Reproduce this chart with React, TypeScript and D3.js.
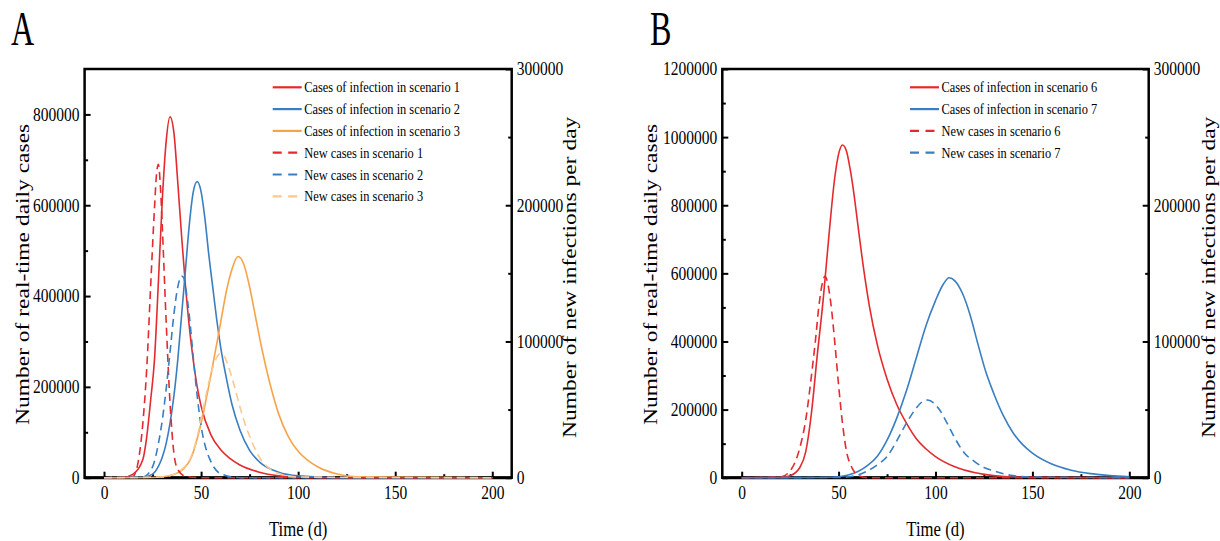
import React, { useEffect, useRef } from 'react';
import { select, scaleLinear, axisBottom, axisLeft, axisRight, line, curveMonotoneX } from 'd3';

// ---- panel A : scenarios 1-3 ----
const daysA1 = [0, 10, 15, 20, 22, 24, 26, 28, 30, 32, 34, 36, 38, 40, 42, 44, 46, 48, 50, 55, 60, 65, 70, 80, 90, 100, 120, 150, 200];
const casesA1 = [0, 1000, 8000, 40000, 90000, 170000, 260000, 430000, 610000, 740000, 795000, 760000, 650000, 530000, 420000, 330000, 258000, 200000, 158000, 95000, 62000, 42000, 28000, 12000, 4000, 1000, 0, 0, 0];

const daysA2 = [0, 20, 25, 28, 30, 32, 34, 36, 38, 40, 42, 44, 46, 48, 50, 52, 54, 56, 58, 60, 63, 66, 70, 75, 80, 90, 100, 120, 200];
const casesA2 = [0, 1000, 8000, 25000, 45000, 75000, 120000, 180000, 260000, 360000, 460000, 560000, 630000, 652000, 630000, 570000, 490000, 420000, 350000, 290000, 220000, 160000, 105000, 60000, 35000, 12000, 4000, 0, 0];

const daysA3 = [0, 25, 30, 35, 40, 45, 50, 55, 60, 63, 66, 69, 72, 75, 78, 81, 85, 90, 95, 100, 105, 110, 120, 130, 200];
const casesA3 = [0, 500, 2000, 6000, 16000, 45000, 120000, 225000, 340000, 410000, 460000, 487000, 470000, 420000, 355000, 290000, 215000, 140000, 90000, 58000, 38000, 24000, 8000, 2000, 0];

const newDaysA1 = [0, 10, 15, 18, 20, 22, 24, 26, 27, 28, 29, 30, 32, 34, 36, 38, 42, 50, 100, 200];
const newA1 = [0, 0, 1000, 15000, 40000, 80000, 140000, 198000, 222000, 230000, 215000, 185000, 115000, 55000, 18000, 6000, 1000, 0, 0, 0];

const newDaysA2 = [0, 20, 25, 28, 30, 32, 34, 36, 38, 40, 41, 42, 44, 46, 48, 50, 52, 55, 60, 70, 200];
const newA2 = [0, 500, 8000, 25000, 42000, 65000, 92000, 120000, 140000, 148000, 147000, 140000, 118000, 88000, 60000, 38000, 24000, 12000, 3000, 0, 0];

const newDaysA3 = [0, 30, 35, 40, 45, 48, 51, 54, 57, 60, 62, 64, 67, 70, 73, 76, 80, 85, 90, 100, 200];
const newA3 = [0, 500, 2000, 6000, 16000, 30000, 50000, 70000, 85000, 91000, 89000, 82000, 68000, 52000, 38000, 27000, 15000, 7000, 3000, 500, 0];

// ---- panel B : scenarios 6-7 ----
const daysB6 = [0, 20, 25, 30, 33, 36, 39, 42, 45, 48, 50, 52, 54, 56, 58, 60, 63, 66, 70, 75, 80, 85, 90, 95, 100, 110, 120, 130, 140, 200];
const casesB6 = [0, 1000, 6000, 30000, 75000, 190000, 360000, 520000, 710000, 880000, 950000, 977000, 960000, 905000, 830000, 740000, 610000, 500000, 390000, 290000, 215000, 160000, 115000, 85000, 62000, 32000, 15000, 6000, 2000, 0];

const daysB7 = [0, 40, 50, 55, 60, 65, 70, 75, 80, 85, 90, 95, 100, 104, 107, 110, 114, 118, 122, 126, 130, 135, 140, 145, 150, 160, 170, 180, 190, 200];
const casesB7 = [0, 500, 3000, 8000, 18000, 36000, 63000, 110000, 175000, 255000, 350000, 445000, 520000, 568000, 587000, 578000, 540000, 475000, 390000, 310000, 248000, 182000, 132000, 97000, 72000, 40000, 22000, 12000, 6000, 3000];

const newDaysB6 = [0, 20, 25, 30, 33, 36, 38, 40, 42, 43, 44, 46, 48, 50, 52, 54, 57, 60, 65, 200];
const newB6 = [0, 500, 5000, 22000, 42000, 75000, 100000, 128000, 145000, 148000, 145000, 128000, 100000, 68000, 40000, 20000, 7000, 2000, 0, 0];

const newDaysB7 = [0, 50, 60, 65, 70, 75, 80, 85, 90, 93, 96, 99, 102, 106, 110, 115, 120, 125, 130, 140, 150, 200];
const newB7 = [0, 200, 2000, 5000, 9500, 15500, 27000, 40000, 51000, 55500, 57000, 55000, 50000, 40000, 29000, 18000, 12000, 7500, 5000, 1500, 500, 0];

const xTicks = [0, 50, 100, 150, 200];
const xMinor = [25, 75, 125, 175];
const rightTicks = [0, 100000, 200000, 300000];
const rightMinor = [50000, 150000, 250000];

const RED = '#e42a2e';
const BLUE = '#3a7ec2';
const ORANGE = '#f7a349';
const LIGHT_ORANGE = '#fcc890';
const FONT = '"Liberation Serif", "Times New Roman", Times, serif';

const panels = [
    {
        letter: 'A', letterX: 11,
        left: 84.6, right: 511.7, top: 69, bottom: 477.7,
        leftMax: 900000,
        leftTicks: [0, 200000, 400000, 600000, 800000],
        leftMinor: [100000, 300000, 500000, 700000],
        leftTitleX: 28.5, rightTitleX: 575.5,
        legendX: 272.7,
        series: [
            { days: daysA1, values: casesA1, color: RED, dashed: false, axis: 'left', label: 'Cases of infection in scenario 1' },
            { days: daysA2, values: casesA2, color: BLUE, dashed: false, axis: 'left', label: 'Cases of infection in scenario 2' },
            { days: daysA3, values: casesA3, color: ORANGE, dashed: false, axis: 'left', label: 'Cases of infection in scenario 3' },
            { days: newDaysA1, values: newA1, color: RED, dashed: true, axis: 'right', label: 'New cases in scenario 1' },
            { days: newDaysA2, values: newA2, color: BLUE, dashed: true, axis: 'right', label: 'New cases in scenario 2' },
            { days: newDaysA3, values: newA3, color: LIGHT_ORANGE, dashed: true, axis: 'right', label: 'New cases in scenario 3' },
        ],
    },
    {
        letter: 'B', letterX: 650,
        left: 722.3, right: 1148.7, top: 69, bottom: 477.7,
        leftMax: 1200000,
        leftTicks: [0, 200000, 400000, 600000, 800000, 1000000, 1200000],
        leftMinor: [100000, 300000, 500000, 700000, 900000, 1100000],
        leftTitleX: 657, rightTitleX: 1215,
        legendX: 910,
        series: [
            { days: daysB6, values: casesB6, color: RED, dashed: false, axis: 'left', label: 'Cases of infection in scenario 6' },
            { days: daysB7, values: casesB7, color: BLUE, dashed: false, axis: 'left', label: 'Cases of infection in scenario 7' },
            { days: newDaysB6, values: newB6, color: RED, dashed: true, axis: 'right', label: 'New cases in scenario 6' },
            { days: newDaysB7, values: newB7, color: BLUE, dashed: true, axis: 'right', label: 'New cases in scenario 7' },
        ],
    },
];

// squeeze every tick label horizontally around its own anchor
function styleAxis(g, fontSize, sx) {
    g.select('.domain').remove();
    g.selectAll('line').attr('stroke', '#000').attr('stroke-width', 2);
    g.selectAll('text')
        .attr('fill', '#000')
        .style('font-family', FONT)
        .style('font-size', fontSize + 'px')
        .each(function () {
            const t = select(this);
            const tx = +(t.attr('x') || 0);
            const ty = +(t.attr('y') || 0);
            t.attr('x', 0).attr('y', 0).attr('transform', `translate(${tx},${ty}) scale(${sx},1)`);
        });
}

function drawPanel(svg, p) {
    const g = svg.append('g');
    const x = scaleLinear().domain([-10, 210]).range([p.left, p.right]);
    const yL = scaleLinear().domain([0, p.leftMax]).range([p.bottom, p.top]);
    const yR = scaleLinear().domain([0, 300000]).range([p.bottom, p.top]);

    // minor ticks
    g.append('g').attr('transform', `translate(0,${p.bottom})`)
        .call(axisBottom(x).tickValues(xMinor).tickSizeInner(-3.5).tickSizeOuter(0).tickFormat(() => ''))
        .call(a => styleAxis(a, 18.5, 0.84));
    g.append('g').attr('transform', `translate(${p.left},0)`)
        .call(axisLeft(yL).tickValues(p.leftMinor).tickSizeInner(-3.5).tickSizeOuter(0).tickFormat(() => ''))
        .call(a => styleAxis(a, 18.5, 0.84));
    g.append('g').attr('transform', `translate(${p.right},0)`)
        .call(axisRight(yR).tickValues(rightMinor).tickSizeInner(-3.5).tickSizeOuter(0).tickFormat(() => ''))
        .call(a => styleAxis(a, 18.5, 0.84));

    // major ticks + labels
    g.append('g').attr('transform', `translate(0,${p.bottom})`)
        .call(axisBottom(x).tickValues(xTicks).tickSizeInner(-6).tickSizeOuter(0).tickPadding(8).tickFormat(d => String(d)))
        .call(a => styleAxis(a, 18.5, 0.84));
    g.append('g').attr('transform', `translate(${p.left},0)`)
        .call(axisLeft(yL).tickValues(p.leftTicks).tickSizeInner(-6).tickSizeOuter(0).tickPadding(5).tickFormat(d => String(d)))
        .call(a => styleAxis(a, 18.5, 0.84));
    g.append('g').attr('transform', `translate(${p.right},0)`)
        .call(axisRight(yR).tickValues(rightTicks).tickSizeInner(-6).tickSizeOuter(0).tickPadding(5).tickFormat(d => String(d)))
        .call(a => styleAxis(a, 18.5, 0.84));

    // frame
    g.append('rect')
        .attr('x', p.left).attr('y', p.top)
        .attr('width', p.right - p.left).attr('height', p.bottom - p.top)
        .attr('fill', 'none').attr('stroke', '#000').attr('stroke-width', 2.5);
    g.append('line')
        .attr('x1', p.left).attr('x2', p.right).attr('y1', p.bottom).attr('y2', p.bottom)
        .attr('stroke', '#000').attr('stroke-width', 3);

    // curves
    p.series.forEach(s => {
        const y = s.axis === 'left' ? yL : yR;
        const pts = s.days.map((d, i) => [d, s.values[i]]);
        g.append('path')
            .datum(pts)
            .attr('fill', 'none')
            .attr('stroke', s.color)
            .attr('stroke-width', 1.6)
            .attr('stroke-dasharray', s.dashed ? '8,5' : null)
            .attr('d', line().x(d => x(d[0])).y(d => y(d[1])).curve(curveMonotoneX));
    });

    // legend
    p.series.forEach((s, i) => {
        const ly = 87.3 + i * 21.8;
        g.append('line')
            .attr('x1', p.legendX).attr('x2', p.legendX + 29)
            .attr('y1', ly).attr('y2', ly)
            .attr('stroke', s.color).attr('stroke-width', 2.2)
            .attr('stroke-dasharray', s.dashed ? '9,6.5' : null);
        g.append('text')
            .attr('transform', `translate(${p.legendX + 31.5},${ly}) scale(0.825,1)`)
            .attr('dy', '0.34em')
            .style('font-family', FONT).style('font-size', '15px')
            .text(s.label);
    });

    // axis titles
    const midY = (p.top + p.bottom) / 2 + 1;
    g.append('text')
        .attr('transform', `translate(${(p.left + p.right) / 2},536) scale(0.76,1)`)
        .attr('text-anchor', 'middle')
        .style('font-family', FONT).style('font-size', '22px')
        .text('Time (d)');
    g.append('text')
        .attr('transform', `translate(${p.leftTitleX},${midY}) rotate(-90) scale(1,0.82)`)
        .attr('text-anchor', 'middle')
        .style('font-family', FONT).style('font-size', '23.5px')
        .text('Number of real-time daily cases');
    g.append('text')
        .attr('transform', `translate(${p.rightTitleX},${midY + 3}) rotate(-90) scale(1,0.82)`)
        .attr('text-anchor', 'middle')
        .style('font-family', FONT).style('font-size', '23.5px')
        .text('Number of new infections per day');

    // panel letter
    g.append('text')
        .attr('transform', `translate(${p.letterX},45) scale(0.67,1)`)
        .style('font-family', FONT).style('font-size', '48px')
        .text(p.letter);
}

export default function App() {
    const ref = useRef(null);

    useEffect(() => {
        const svg = select(ref.current);
        svg.selectAll('*').remove();
        panels.forEach(p => drawPanel(svg, p));
    }, []);

    return (
        <svg
            ref={ref}
            width={1220}
            height={541}
            style={{ position: 'absolute', left: 0, top: 0, background: '#fff' }}
        />
    );
}
